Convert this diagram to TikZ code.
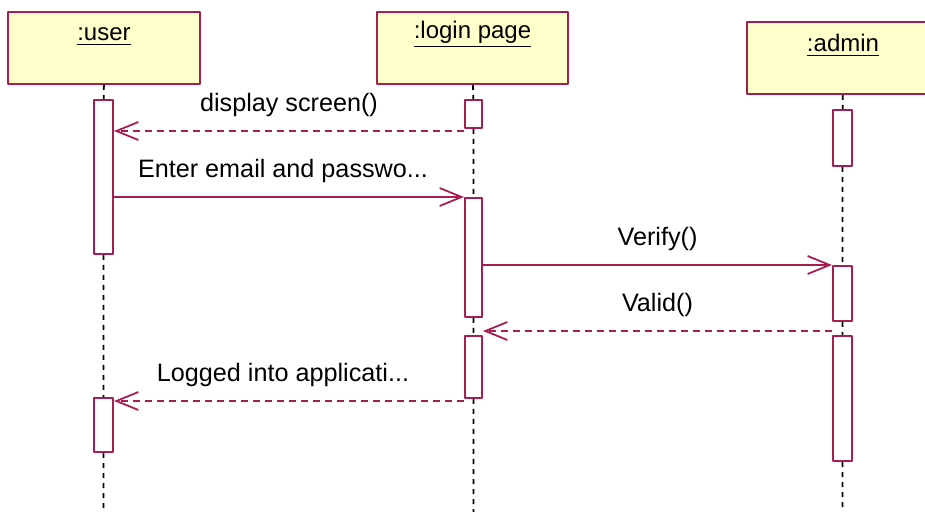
\documentclass[tikz,border=0pt]{standalone}
\usepackage{fontspec}
\setmainfont{Liberation Sans}
\usetikzlibrary{arrows.meta,positioning,fit}
\definecolor{umlred}{RGB}{168,30,80}
\definecolor{umlyellow}{RGB}{255,255,204}
\tikzset{
	head/.style={draw=umlred, fill=umlyellow, line width=1pt, inner sep=0pt},
	headtext/.style={inner sep=0pt, font=\fontsize{12}{14}\selectfont},
	act/.style={draw=umlred, fill=white, line width=1pt, inner sep=0pt},
	life/.style={dash pattern=on 2.5pt off 2.5pt, line width=0.9pt},
	call/.style={draw=umlred, line width=0.9pt, -{Straight Barb[length=11pt,width=9pt]}},
	reply/.style={call, dash pattern=on 3.5pt off 2.5pt},
	msgtext/.style={midway, anchor=base, yshift=9.5pt, inner sep=0pt, font=\fontsize{12.6}{14}\selectfont}
}
\begin{document}
\begin{tikzpicture}[x=0.5pt, y=-0.5pt, line join=round]
	\useasboundingbox (0,0) rectangle (925,512);
	\clip (0,0) rectangle (925,512);
	% objects
	\node[head, fit={(8,12) (200,84)}] (user) {};
	\node[head, fit={(377,12) (568,84)}] (login) {};
	\node[head, fit={(747,22) (939,94)}] (admin) {};
	\node[headtext, below=15pt of user.north, anchor=base] (usertxt) {\underline{:user}};
	\node[headtext, below=14pt of login.north, anchor=base] (logintxt) {\underline{:login page}};
	\node[headtext, below=15.5pt of admin.north, anchor=base] (admintxt) {\underline{:admin}};
	% activations
	\node[act, fit={(94,100) (113,254)}] (ua1) {};
	\node[act, fit={(94,398) (113,452)}] (ua2) {};
	\node[act, fit={(465,100) (482,128)}] (la1) {};
	\node[act, fit={(465,198) (482,317)}] (la2) {};
	\node[act, fit={(465,336) (482,398)}] (la3) {};
	\node[act, fit={(833,110) (852,166)}] (aa1) {};
	\node[act, fit={(833,266) (852,321)}] (aa2) {};
	\node[act, fit={(833,336) (852,461)}] (aa3) {};
	\coordinate (uend) at (104,515);
	\coordinate (lend) at (473,515);
	\coordinate (aend) at (843,515);
	% lifelines
	\draw[life] (user) -- (ua1) (ua1) -- (ua2) (ua2) -- (ua2.south |- uend);
	\draw[life] (login) -- (la1) (la1) -- (la2) (la2) -- (la3) (la3) -- (la3.south |- lend);
	\draw[life] (admin) -- (aa1) (aa1) -- (aa2) (aa2) -- (aa3) (aa3) -- (aa3.south |- aend);
	% messages
	\coordinate (ds) at ([yshift=-1pt]la1.south west);
	\coordinate (vd) at ([yshift=2pt]aa3.north west);
	\coordinate (lg) at ([yshift=-1pt]la3.south west);
	\draw[reply] (ds) -- (ds -| ua1.east) node[msgtext] {display screen()};
	\draw[call] (ua1.east |- la2.north) -- (la2.north west) node[msgtext, xshift=-3pt] {Enter email and passwo...};
	\draw[call] (la2.east |- aa2.north) -- (aa2.north west) node[msgtext] {Verify()};
	\draw[reply] (vd) -- (vd -| la3.east) node[msgtext] {Valid()};
	\draw[reply] (lg) -- (lg -| ua2.east) node[msgtext, xshift=-3pt] {Logged into applicati...};
\end{tikzpicture}
\end{document}
